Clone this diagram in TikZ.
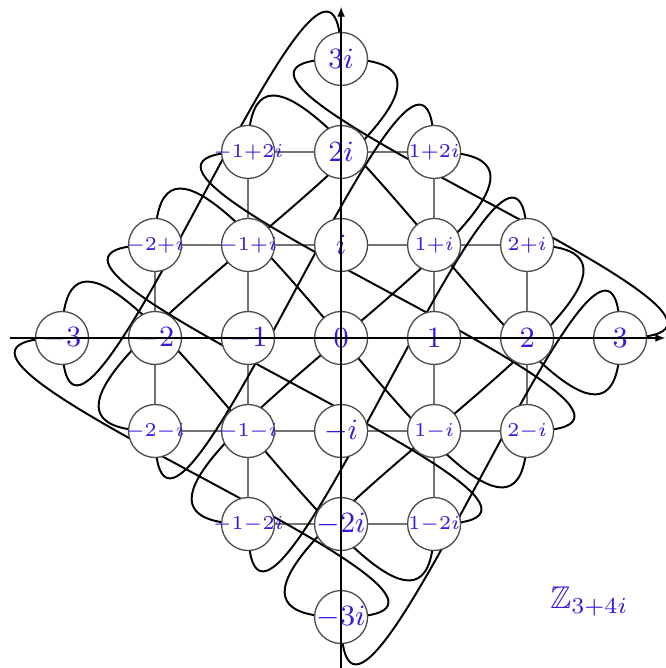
\documentclass[tikz,border=0pt]{standalone}
\usepackage{amssymb}
\usetikzlibrary{arrows.meta,backgrounds}
\definecolor{zblue}{RGB}{52,26,222}
\newcommand{\zlbl}[1]{\makebox[0pt]{$#1$}}
\newcommand{\zsml}[1]{\makebox[0pt]{$\scriptstyle #1$}}

\begin{document}
\begin{tikzpicture}[
  x=1cm, y=1cm,
  vert/.style={circle, draw=black!70, fill=white, line width=0.4pt, minimum size=0.57cm, inner sep=0pt, text=zblue},
  big/.style={vert, font=\fontsize{9.2}{11}\selectfont},
  small/.style={vert, font=\fontsize{9.2}{11}\selectfont},
  gridline/.style={draw=black!55, line width=0.4pt},
  wrapedge/.style={line width=0.6pt, looseness=1.55},
  axisline/.style={-{Latex[length=3pt,width=2.4pt]}, line width=0.4pt}
]
\useasboundingbox (-3.667,-3.548) rectangle (3.484,3.634);

% residues of Z[i] modulo 3+4i
\node[big] (z0) at (0,0) {\zlbl{0}};
\node[big] (z1) at (1,0) {\zlbl{1}};
\node[big] (z2) at (2,0) {\zlbl{2}};
\node[big] (z3) at (3,0) {\zlbl{3}};
\node[big] (zm1) at (-1,0) {\zlbl{-1}};
\node[big] (zm2) at (-2,0) {\zlbl{-2}};
\node[big] (zm3) at (-3,0) {\zlbl{-3}};
\node[big] (zi) at (0,1) {\zlbl{i}};
\node[big] (z2i) at (0,2) {\zlbl{2i}};
\node[big] (z3i) at (0,3) {\zlbl{3i}};
\node[big] (zmi) at (0,-1) {\zlbl{-i}};
\node[big] (zm2i) at (0,-2) {\zlbl{-2i}};
\node[big] (zm3i) at (0,-3) {\zlbl{-3i}};
\node[small] (z1pi) at (1,1) {\zsml{1+i}};
\node[small] (z2pi) at (2,1) {\zsml{2+i}};
\node[small] (z1p2i) at (1,2) {\zsml{1+2i}};
\node[small] (zm1pi) at (-1,1) {\zsml{-1+i}};
\node[small] (zm2pi) at (-2,1) {\zsml{-2+i}};
\node[small] (zm1p2i) at (-1,2) {\zsml{-1+2i}};
\node[small] (z1mi) at (1,-1) {\zsml{1-i}};
\node[small] (z2mi) at (2,-1) {\zsml{2-i}};
\node[small] (z1m2i) at (1,-2) {\zsml{1-2i}};
\node[small] (zm1mi) at (-1,-1) {\zsml{-1-i}};
\node[small] (zm2mi) at (-2,-1) {\zsml{-2-i}};
\node[small] (zm1m2i) at (-1,-2) {\zsml{-1-2i}};

\begin{pgfonlayer}{background}
% neighbours inside the diamond
\foreach \u/\v in {zm3/zm2, zm2/zm1, zm1/z0, z0/z1, z1/z2, z2/z3,
    zm2pi/zm1pi, zm1pi/zi, zi/z1pi, z1pi/z2pi,
    zm2mi/zm1mi, zm1mi/zmi, zmi/z1mi, z1mi/z2mi,
    zm1p2i/z2i, z2i/z1p2i, zm1m2i/zm2i, zm2i/z1m2i,
    zm3i/zm2i, zm2i/zmi, zmi/z0, z0/zi, zi/z2i, z2i/z3i,
    z1m2i/z1mi, z1mi/z1, z1/z1pi, z1pi/z1p2i,
    zm1m2i/zm1mi, zm1mi/zm1, zm1/zm1pi, zm1pi/zm1p2i,
    z2mi/z2, z2/z2pi, zm2mi/zm2, zm2/zm2pi}
  \draw[gridline] (\u) -- (\v);
% wrap-around: +1
\draw[wrapedge] (z3.center) to[out=0,in=180] (z3i.center);
\draw[wrapedge] (z2pi.center) to[out=0,in=180] (zm3i.center);
\draw[wrapedge] (z2mi.center) to[out=0,in=180] (zm1p2i.center);
\draw[wrapedge] (z1p2i.center) to[out=0,in=180] (zm1m2i.center);
\draw[wrapedge] (z1m2i.center) to[out=0,in=180] (zm2pi.center);
\draw[wrapedge] (z3i.center) to[out=0,in=180] (zm2mi.center);
\draw[wrapedge] (zm3i.center) to[out=0,in=180] (zm3.center);
% wrap-around: +i
\draw[wrapedge] (z3i.center) to[out=90,in=270] (zm3.center);
\draw[wrapedge] (z1p2i.center) to[out=90,in=270] (zm2mi.center);
\draw[wrapedge] (zm1p2i.center) to[out=90,in=270] (z3.center);
\draw[wrapedge] (z2pi.center) to[out=90,in=270] (zm1m2i.center);
\draw[wrapedge] (zm2pi.center) to[out=90,in=270] (z2mi.center);
\draw[wrapedge] (z3.center) to[out=90,in=270] (zm3i.center);
\draw[wrapedge] (zm3.center) to[out=90,in=270] (z1m2i.center);
\end{pgfonlayer}

% axes
\coordinate (xl) at (-3.56,0);
\coordinate (xr) at (3.484,0);
\coordinate (yb) at (0,-3.6);
\coordinate (yt) at (0,3.56);
\draw[axisline] (xl) -- (xr);
\draw[axisline] (yb) -- (yt);

\node[text=zblue, font=\fontsize{9.6}{11}\selectfont] (ring) at (2.67,-2.83) {$\mathbb{Z}_{3+4i}$};
\end{tikzpicture}
\end{document}
